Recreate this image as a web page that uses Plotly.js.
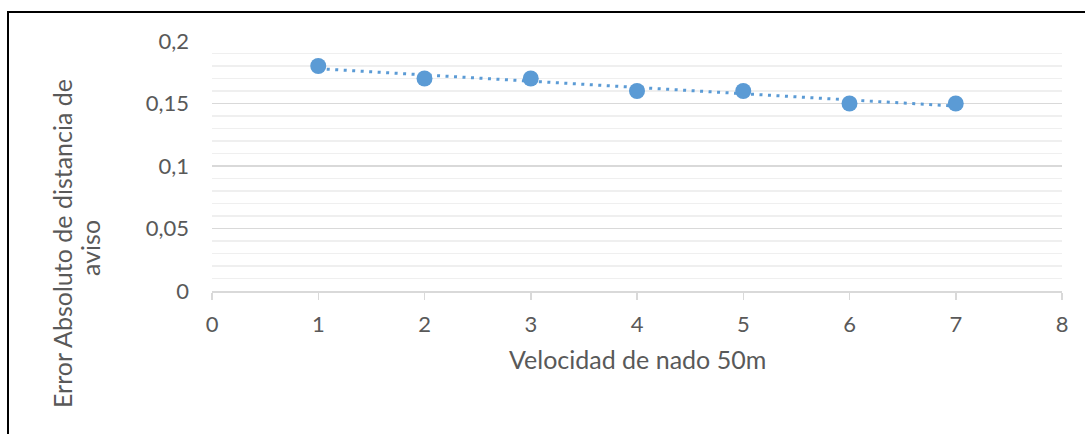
<!DOCTYPE html>
<html>
<head>
<meta charset="utf-8">
<script src="https://cdn.plot.ly/plotly-3.0.1.min.js"></script>
<style>
  html, body { margin: 0; padding: 0; background: #ffffff; }
  #chart { width: 1085px; height: 434px; }
</style>
</head>
<body>
<div id="chart"></div>
<script>
// Swim speed vs absolute error of the warning distance
const velocidad = [1, 2, 3, 4, 5, 6, 7];
const errorAbs = [0.18, 0.17, 0.17, 0.16, 0.16, 0.15, 0.15];
const xTicks = [0, 1, 2, 3, 4, 5, 6, 7, 8];
const yTicks = [0, 0.05, 0.1, 0.15, 0.2];

// Least-squares linear trend through the points
function linearFit(xs, ys) {
  const n = xs.length;
  const mx = xs.reduce((a, b) => a + b, 0) / n;
  const my = ys.reduce((a, b) => a + b, 0) / n;
  let sxy = 0, sxx = 0;
  for (let i = 0; i < n; i++) {
    sxy += (xs[i] - mx) * (ys[i] - my);
    sxx += (xs[i] - mx) * (xs[i] - mx);
  }
  const m = sxy / sxx;
  return { m: m, b: my - m * mx };
}
const fit = linearFit(velocidad, errorAbs);
const trendX = [velocidad[0], velocidad[velocidad.length - 1]];
const trendY = trendX.map(x => fit.m * x + fit.b);

const blue = '#5b9bd5';
const textColor = '#595959';
const font = 'Lato, "Open Sans", "Liberation Sans", sans-serif';

const traces = [
  {
    x: trendX, y: trendY, type: 'scatter', mode: 'lines',
    line: { color: blue, width: 3, dash: '3px,5.5px' },
    hoverinfo: 'skip', showlegend: false
  },
  {
    x: velocidad, y: errorAbs, type: 'scatter', mode: 'markers',
    marker: { color: blue, size: 16 },
    showlegend: false
  }
];

// Pixel helpers for placing titles and the frame
const L = 212, R = 1062, T = 41, B = 291;
const px = v => (v - L) / (R - L);
const py = v => (B - v) / (B - T);

const titleFont = { size: 25, color: textColor, family: font };

const layout = {
  width: 1085, height: 434,
  margin: { l: L, r: 1085 - R, t: T, b: 434 - B, pad: 0 },
  paper_bgcolor: '#ffffff', plot_bgcolor: '#ffffff',
  separators: ', ',
  font: { family: font, color: textColor, size: 22 },
  xaxis: {
    range: [0, 8], tickvals: xTicks, ticktext: xTicks.map(String),
    showgrid: false, zeroline: false,
    showline: true, linecolor: '#d9d9d9', linewidth: 1.5,
    ticks: 'outside', ticklen: 7, tickcolor: '#d9d9d9', tickwidth: 1.5,
    ticklabelstandoff: 6,
    tickfont: { size: 22, color: textColor, family: font }
  },
  yaxis: {
    range: [0, 0.2], tickvals: yTicks,
    ticktext: yTicks.map(v => String(v).replace('.', ',')),
    showgrid: true, gridcolor: '#d9d9d9', gridwidth: 1.5,
    zeroline: false, showline: false, ticks: '',
    ticklabelstandoff: 22,
    tickfont: { size: 22, color: textColor, family: font },
    minor: { dtick: 0.01, showgrid: true, gridcolor: '#efefef', gridwidth: 1.5 }
  },
  annotations: [
    {
      text: 'Velocidad de nado 50m', xref: 'paper', yref: 'paper',
      x: px(637), y: py(359), xanchor: 'center', yanchor: 'middle',
      showarrow: false, font: titleFont
    },
    {
      text: 'Error Absoluto de distancia de', xref: 'paper', yref: 'paper',
      x: px(62), y: py(244), xanchor: 'center', yanchor: 'middle',
      textangle: -90, showarrow: false, font: titleFont
    },
    {
      text: 'aviso', xref: 'paper', yref: 'paper',
      x: px(90), y: py(248), xanchor: 'center', yanchor: 'middle',
      textangle: -90, showarrow: false, font: titleFont
    }
  ],
  shapes: [
    { type: 'line', xref: 'paper', yref: 'paper', x0: px(8), x1: px(8), y0: py(12), y1: py(440),
      line: { color: '#000000', width: 2 } },
    { type: 'line', xref: 'paper', yref: 'paper', x0: px(7), x1: px(1090), y0: py(12), y1: py(12),
      line: { color: '#000000', width: 2 } }
  ]
};

Plotly.newPlot('chart', traces, layout, { staticPlot: true, displayModeBar: false });
</script>
</body>
</html>
